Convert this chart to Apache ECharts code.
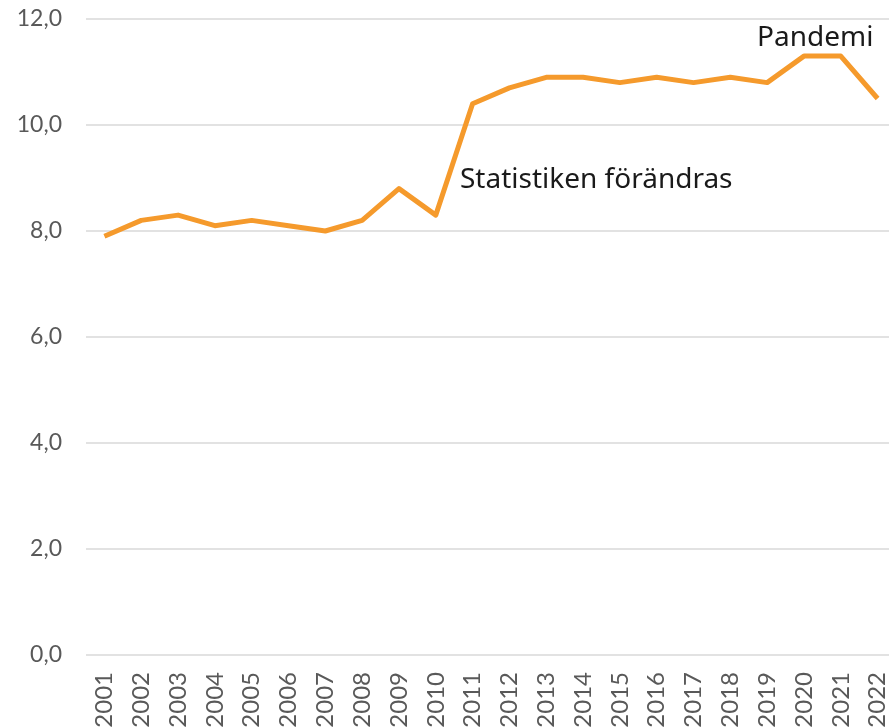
<!DOCTYPE html>
<html>
<head>
<meta charset="utf-8">
<script src="https://cdn.jsdelivr.net/npm/echarts@6/dist/echarts.min.js"></script>
<style>
  html, body { margin: 0; padding: 0; background: #fff; }
  #chart { width: 889px; height: 728px; }
</style>
</head>
<body>
<div id="chart"></div>
<script>
// data
const years = ['2001', '2002', '2003', '2004', '2005', '2006', '2007', '2008', '2009', '2010', '2011',
  '2012', '2013', '2014', '2015', '2016', '2017', '2018', '2019', '2020', '2021', '2022']
const values = [7.9, 8.2, 8.3, 8.1, 8.2, 8.1, 8.0, 8.2, 8.8, 8.3, 10.4,
  10.7, 10.9, 10.9, 10.8, 10.9, 10.8, 10.9, 10.8, 11.3, 11.3, 10.5]
const notes = ['Statistiken förändras', 'Pandemi']

const font = 'Lato, "Noto Sans", sans-serif'
const noteFont = '"Noto Sans", sans-serif'
const chart = echarts.init(document.getElementById('chart'))

chart.setOption({
  animation: false,
  backgroundColor: '#fff',
  grid: { left: 86, width: 810, top: 19, bottom: 73, outerBoundsMode: 'none' },
  xAxis: {
    type: 'category',
    data: years,
    boundaryGap: true,
    axisLine: { show: false },
    axisTick: { show: false },
    axisLabel: {
      rotate: 90,
      interval: 0,
      margin: 17,
      color: '#595959',
      fontFamily: font,
      fontSize: 24,
    },
  },
  yAxis: {
    type: 'value',
    min: 0,
    max: 12,
    interval: 2,
    axisLine: { show: false },
    axisTick: { show: false },
    axisLabel: {
      margin: 24,
      color: '#595959',
      fontFamily: font,
      fontSize: 23,
      formatter: (v) => v.toFixed(1).replace('.', ','),
    },
    splitLine: { lineStyle: { color: '#d9d9d9', width: 1.5 } },
  },
  series: [
    {
      type: 'line',
      data: values,
      showSymbol: false,
      lineStyle: { color: '#f59a2c', width: 5, join: 'round' },
    },
  ],
  graphic: [
    {
      type: 'text',
      left: 460,
      top: 166,
      style: { text: notes[0], fill: '#1a1a1a', font: '28px ' + noteFont },
    },
    {
      type: 'text',
      left: 757,
      top: 24,
      style: { text: notes[1], fill: '#1a1a1a', font: '28px ' + noteFont },
    },
  ],
})
</script>
</body>
</html>
